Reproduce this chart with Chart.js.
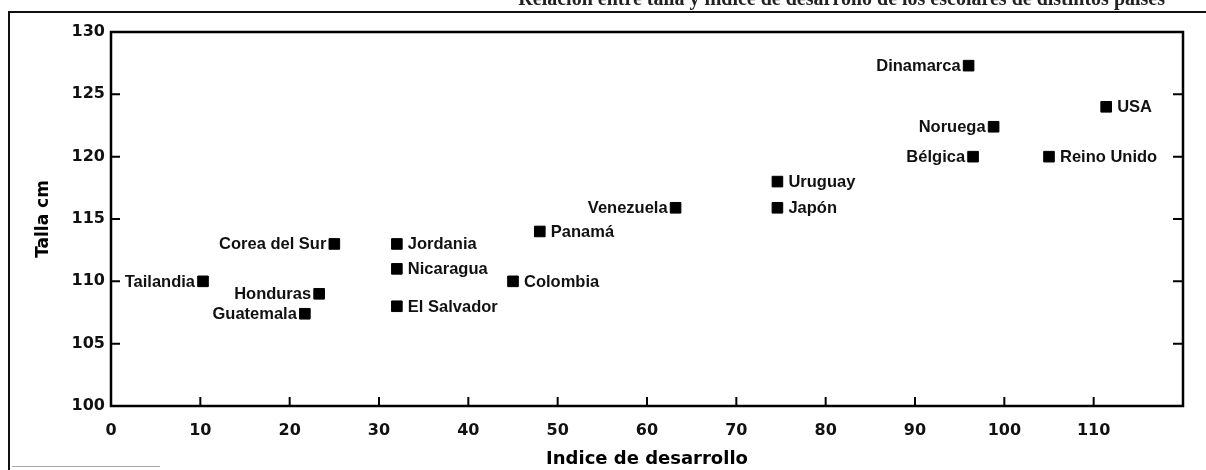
<!DOCTYPE html>
<html>
<head>
<meta charset="utf-8">
<script src="https://cdn.jsdelivr.net/npm/chart.js@4.4.1/dist/chart.umd.min.js"></script>
<style>
  html, body { margin: 0; padding: 0; background: #fff; }
  #wrap { width: 1206px; height: 470px; position: relative; }
</style>
</head>
<body>
<div id="wrap"><canvas id="grafico"></canvas></div>
<script>
// === DATOS ===
const paises = ['Tailandia', 'Corea del Sur', 'Honduras', 'Guatemala', 'Jordania', 'Nicaragua',
    'El Salvador', 'Colombia', 'Panamá', 'Venezuela', 'Uruguay', 'Japón', 'Dinamarca',
    'Noruega', 'Bélgica', 'Reino Unido', 'USA'];
const indiceDesarrollo = [10.3, 25, 23.3, 21.7, 32, 32, 32, 45, 48, 63.2, 74.6, 74.6, 96, 98.8, 96.5, 105, 111.4];
const tallaCm = [110, 113, 109, 107.4, 113, 111, 108, 110, 114, 115.9, 118, 115.9, 127.3, 122.4, 120, 120, 124];
// paises con la etiqueta a la izquierda del punto
const etiquetaIzquierda = ['Tailandia', 'Corea del Sur', 'Honduras', 'Guatemala', 'Venezuela',
    'Dinamarca', 'Noruega', 'Bélgica'];
const ticksX = [0, 10, 20, 30, 40, 50, 60, 70, 80, 90, 100, 110];
const ticksY = [100, 105, 110, 115, 120, 125, 130];
const tituloX = 'Indice de desarrollo';
const tituloY = 'Talla cm';
const leyenda = 'Relación entre talla y índice de desarrollo de los escolares de distintos países';

const FUENTE = '"Liberation Sans", Arial, sans-serif';
const FUENTE_EJES = '"DejaVu Sans", sans-serif';

// === PLUGINS ===
const marco = {
    id: 'marco',
    beforeDraw(chart) {
        const c = chart.ctx;
        c.save();
        c.fillStyle = '#fff';
        c.fillRect(0, 0, chart.width, chart.height);
        // leyenda cortada arriba
        c.font = 'bold 20px "Liberation Serif", serif';
        c.fillStyle = '#222';
        c.textAlign = 'right';
        c.textBaseline = 'alphabetic';
        c.fillText(leyenda, 1165, 5);
        c.strokeStyle = '#111';
        c.lineWidth = 2;
        c.beginPath();
        c.moveTo(9, 12); c.lineTo(1206, 12);
        c.moveTo(9, 11); c.lineTo(9, 470);
        c.stroke();
        c.strokeStyle = '#aaa';
        c.lineWidth = 1;
        c.beginPath();
        c.moveTo(12, 466.5); c.lineTo(160, 466.5);
        c.stroke();
        c.restore();
    },
    afterDraw(chart) {
        const c = chart.ctx;
        const a = chart.chartArea;
        const sx = chart.scales.x, sy = chart.scales.y;
        c.save();
        c.strokeStyle = '#000';
        c.lineWidth = 2.5;
        c.strokeRect(a.left, a.top, a.right - a.left, a.bottom - a.top);
        c.lineWidth = 2;
        c.beginPath();
        ticksY.forEach(v => {
            if (v === sy.min || v === sy.max) return;
            const y = sy.getPixelForValue(v);
            c.moveTo(a.left, y); c.lineTo(a.left + 9, y);
            c.moveTo(a.right, y); c.lineTo(a.right - 10, y);
        });
        ticksX.forEach(v => {
            if (v === sx.min) return;
            const x = sx.getPixelForValue(v);
            c.moveTo(x, a.bottom); c.lineTo(x, a.bottom - 9);
        });
        c.stroke();
        c.restore();
    }
};

const etiquetas = {
    id: 'etiquetas',
    afterDatasetsDraw(chart) {
        const c = chart.ctx;
        const meta = chart.getDatasetMeta(0);
        c.save();
        c.font = 'bold 16.5px ' + FUENTE;
        c.fillStyle = '#111';
        c.textBaseline = 'middle';
        meta.data.forEach((pt, i) => {
            const izq = etiquetaIzquierda.includes(paises[i]);
            c.textAlign = izq ? 'right' : 'left';
            c.fillText(paises[i], izq ? pt.x - 8 : pt.x + 11, pt.y + 1);
        });
        c.restore();
    }
};

// === GRAFICO ===
const puntos = indiceDesarrollo.map((x, i) => ({ x: x, y: tallaCm[i] }));

new Chart(document.getElementById('grafico'), {
    type: 'scatter',
    data: {
        datasets: [{
            data: puntos,
            pointStyle: 'rect',
            pointRadius: 7.5,
            pointBackgroundColor: '#000',
            pointBorderColor: '#000',
            pointBorderWidth: 1
        }]
    },
    options: {
        responsive: true,
        maintainAspectRatio: false,
        animation: false,
        layout: { padding: { left: 0, right: 23, top: 32, bottom: 0 } },
        plugins: { legend: { display: false }, tooltip: { enabled: false } },
        scales: {
            x: {
                type: 'linear',
                min: 0, max: 120,
                afterBuildTicks: s => { s.ticks = ticksX.map(v => ({ value: v })); },
                afterFit: s => { s.height = 64; },
                grid: { display: false, drawTicks: false },
                border: { display: false },
                ticks: { padding: 15, color: '#111', font: { family: FUENTE_EJES, size: 16, weight: 'bold' } },
                title: {
                    display: true, text: tituloX, color: '#000',
                    font: { family: FUENTE_EJES, size: 18, weight: 'bold' },
                    padding: { top: 3, bottom: 0 }
                }
            },
            y: {
                type: 'linear',
                min: 100, max: 130,
                afterBuildTicks: s => { s.ticks = ticksY.map(v => ({ value: v })); },
                afterFit: s => { s.width = 111; },
                grid: { display: false, drawTicks: false },
                border: { display: false },
                ticks: { padding: 6, color: '#111', font: { family: FUENTE_EJES, size: 16, weight: 'bold' } },
                title: {
                    display: true, text: tituloY, color: '#000',
                    font: { family: FUENTE_EJES, size: 17, weight: 'bold' },
                    padding: { top: 33, bottom: 0 }
                }
            }
        }
    },
    plugins: [marco, etiquetas]
});
</script>
</body>
</html>
